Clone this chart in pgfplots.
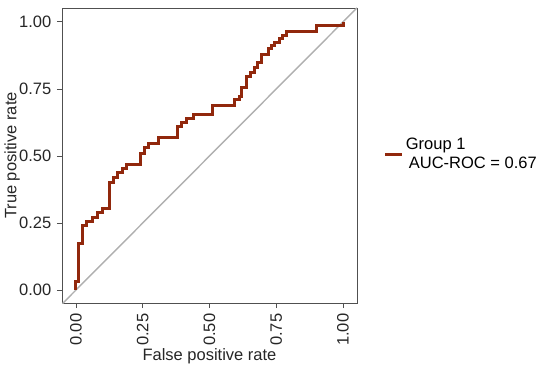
\documentclass[border=0pt]{standalone}
\usepackage{fontspec}
\setmainfont{Liberation Sans}
\usepackage{pgfplots}
\pgfplotsset{compat=1.18}
\definecolor{roc}{RGB}{145,40,12}
\definecolor{framec}{RGB}{80,80,80}
\definecolor{diag}{RGB}{175,175,175}
\begin{document}
\fontsize{16.5}{19}\selectfont
\begin{tikzpicture}
\useasboundingbox (0pt,0pt) rectangle (550pt,-369pt);
\begin{axis}[
  at={(62pt,-303pt)}, anchor=south west,
  width=295pt, height=295pt, scale only axis,
  xmin=-0.0524, xmax=1.0524, ymin=-0.0485, ymax=1.052,
  xtick={0,0.25,0.5,0.75,1}, ytick={0,0.25,0.5,0.75,1},
  xticklabels={0.00,0.25,0.50,0.75,1.00},
  yticklabels={0.00,0.25,0.50,0.75,1.00},
  /pgf/number format/assume math mode=true,
  tick align=outside, major tick length=5pt,
  xtick pos=bottom, ytick pos=left,
  axis line style={framec, line width=0.9pt},
  every tick/.style={framec, line width=0.9pt},
  tick label style={font=\fontsize{16.5}{19}\selectfont, text=black!85},
  xticklabel style={rotate=90, anchor=east},
  label style={font=\fontsize{16.5}{19}\selectfont, text=black!85},
  xlabel={False positive rate},
  ylabel={True positive rate},
  xlabel style={at={(axis description cs:0.5,-0.18)}, anchor=center},
  ylabel style={at={(axis description cs:-0.169,0.5)}, anchor=center, rotate=0},
  legend style={at={(axis description cs:1.08,0.505)}, anchor=west, draw=none, fill=none,
    font=\fontsize{16.5}{19}\selectfont, cells={align=left}, row sep=0pt},
  legend cell align=left,
  legend image post style={line width=3pt},
]
\addplot[diag, line width=1.4pt, forget plot] coordinates {(-0.0524,-0.0524) (1.0524,1.0524)};
\addplot[roc, line width=3pt, line join=miter] coordinates {
(0,0) (0,0.03) (0.01,0.03) (0.01,0.175) (0.026,0.175) (0.026,0.24)
(0.04,0.24) (0.04,0.255) (0.06,0.255) (0.06,0.27) (0.08,0.27) (0.08,0.29)
(0.1,0.29) (0.1,0.305) (0.125,0.305) (0.125,0.40) (0.14,0.40) (0.14,0.42)
(0.155,0.42) (0.155,0.44) (0.175,0.44) (0.175,0.455) (0.19,0.455) (0.19,0.47)
(0.24,0.47) (0.24,0.51) (0.255,0.51) (0.255,0.53) (0.27,0.53) (0.27,0.545)
(0.31,0.545) (0.31,0.57) (0.38,0.57) (0.38,0.61) (0.395,0.61) (0.395,0.625)
(0.415,0.625) (0.415,0.64) (0.44,0.64) (0.44,0.653) (0.51,0.653) (0.51,0.69)
(0.595,0.69) (0.595,0.71) (0.614,0.71) (0.614,0.72) (0.62,0.72) (0.62,0.755)
(0.64,0.755) (0.64,0.795) (0.655,0.795) (0.655,0.81) (0.67,0.81) (0.67,0.83)
(0.68,0.83) (0.68,0.85) (0.695,0.85) (0.695,0.877) (0.72,0.877) (0.72,0.90)
(0.734,0.90) (0.734,0.912) (0.745,0.912) (0.745,0.925) (0.764,0.925) (0.764,0.94)
(0.775,0.94) (0.775,0.95) (0.79,0.95) (0.79,0.965) (0.90,0.965) (0.90,0.985)
(1.0,0.985) (1.0,1.0)
};
\addlegendentry{Group 1\\\hspace{3pt}AUC-ROC = 0.67}
\end{axis}
\end{tikzpicture}
\end{document}
